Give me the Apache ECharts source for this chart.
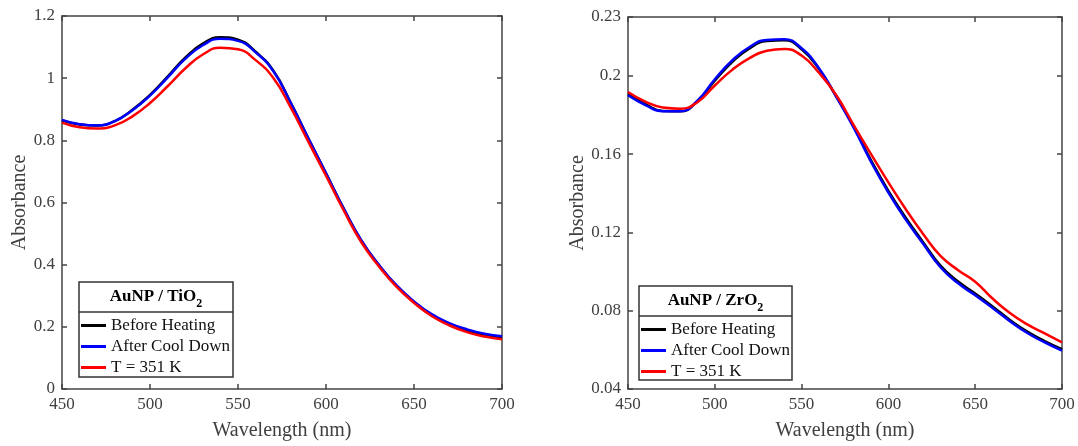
<!DOCTYPE html>
<html>
<head>
<meta charset="utf-8">
<script src="https://cdn.jsdelivr.net/npm/echarts@6/dist/echarts.min.js"></script>
<style>
html,body{margin:0;padding:0;background:#fff;}
#chart{width:1078px;height:446px;}
</style>
</head>
<body>
<div id="chart"></div>
<script>
// ---------- data ----------
const wavelength = [450,460,470,480,490,500,510,520,530,540,550,560,570,580,590,600,610,620,630,640,650,660,670,680,690,700];
const seriesNames = ['Before Heating','After Cool Down','T = 351 K'];
const seriesColors = ['#000000','#0000ff','#ff0000'];

// AuNP / TiO2
const tiBefore = [0.864,0.851,0.848,0.862,0.898,0.946,1.005,1.066,1.111,1.132,1.124,1.085,1.025,0.921,0.806,0.694,0.581,0.478,0.399,0.332,0.280,0.238,0.209,0.188,0.174,0.166];
const tiAfter  = [0.866,0.852,0.848,0.862,0.897,0.944,1.002,1.062,1.106,1.127,1.120,1.083,1.023,0.920,0.806,0.694,0.581,0.479,0.400,0.334,0.282,0.241,0.212,0.192,0.178,0.170];
const tiHot    = [0.857,0.842,0.838,0.848,0.877,0.920,0.974,1.031,1.076,1.098,1.093,1.058,1.001,0.905,0.795,0.686,0.575,0.473,0.395,0.329,0.277,0.235,0.205,0.183,0.169,0.160];

// AuNP / ZrO2
const zrBefore = [0.1905,0.1855,0.1820,0.1818,0.1870,0.1975,0.2070,0.2140,0.2177,0.2181,0.2135,0.2035,0.1893,0.1740,0.1568,0.1412,0.1275,0.1150,0.1030,0.0950,0.0888,0.0822,0.0753,0.0693,0.0645,0.0603];
const zrAfter  = [0.1900,0.1850,0.1818,0.1818,0.1873,0.1982,0.2078,0.2147,0.2183,0.2186,0.2140,0.2038,0.1892,0.1735,0.1560,0.1403,0.1265,0.1142,0.1022,0.0941,0.0879,0.0814,0.0746,0.0686,0.0638,0.0596];
const zrHot    = [0.1917,0.1868,0.1838,0.1832,0.1865,0.1950,0.2030,0.2090,0.2128,0.2137,0.2103,0.2015,0.1900,0.1748,0.1600,0.1455,0.1318,0.1192,0.1080,0.1008,0.0948,0.0862,0.0788,0.0730,0.0684,0.0638];

const xTicks = {min:450, max:700, interval:50};
const yTicksTi = {min:0, max:1.2, interval:0.2};
const yTicksZr = {min:0.04, max:0.23, interval:0.04};
const xTitle = 'Wavelength (nm)';
const yTitle = 'Absorbance';
const panelTitles = [['AuNP / TiO','2'],['AuNP / ZrO','2']];

// ---------- chart ----------
const FONT = '"Liberation Serif", "DejaVu Serif", serif';
const AX = '#444';
const TXT = '#404040';

function xAx(grid, pos, show) {
  return {
    type:'value', gridIndex:grid, position:pos, min:xTicks.min, max:xTicks.max, interval:xTicks.interval,
    axisLine:{show:true, onZero:false, lineStyle:{color:AX, width:1.5}},
    axisTick:{show:true, inside:true, length:5, lineStyle:{color:AX, width:1.5}},
    axisLabel:{show:show, color:TXT, fontFamily:FONT, fontSize:17, margin:7},
    splitLine:{show:false},
    name: show ? xTitle : '', nameLocation:'middle', nameGap:32,
    nameTextStyle:{color:TXT, fontFamily:FONT, fontSize:20}
  };
}
function yAx(grid, pos, show, t, gap) {
  return {
    type:'value', gridIndex:grid, position:pos, min:t.min, max:t.max, interval:t.interval,
    axisLine:{show:true, onZero:false, lineStyle:{color:AX, width:1.5}},
    axisTick:{show:true, inside:true, length:5, lineStyle:{color:AX, width:1.5}},
    axisLabel:{show:show, color:TXT, fontFamily:FONT, fontSize:17, margin:7},
    splitLine:{show:false},
    name: show ? yTitle : '', nameLocation:'middle', nameGap:gap, nameRotate:90,
    nameTextStyle:{color:TXT, fontFamily:FONT, fontSize:20}
  };
}

function mkSeries(data, idx, xi, yi) {
  return {
    type:'line', name:seriesNames[idx], xAxisIndex:xi, yAxisIndex:yi,
    data: wavelength.map((w,i)=>[w, data[i]]),
    smooth:0.5, showSymbol:false, symbol:'none',
    lineStyle:{color:seriesColors[idx], width:2.5},
    itemStyle:{color:seriesColors[idx]},
    z: 2+idx
  };
}

function legendBox(x, y, w, h, divY, title) {
  return {
    type:'group',
    children:[
      {type:'rect', shape:{x:x, y:y, width:w, height:h}, style:{fill:'#fff', stroke:'#333', lineWidth:1.5}, z:10},
      {type:'line', shape:{x1:x, y1:divY, x2:x+w, y2:divY}, style:{stroke:'#333', lineWidth:1.5}, z:11},
      {type:'text', x:x+w/2, y:(y+divY)/2, z:11,
        style:{
          text:'{b|'+title[0]+'}{s|'+title[1]+'}',
          align:'center', verticalAlign:'middle',
          rich:{
            b:{fontFamily:FONT, fontSize:17, fontWeight:'bold', color:'#111', lineHeight:26},
            s:{fontFamily:FONT, fontSize:12, fontWeight:'bold', color:'#111', verticalAlign:'bottom', lineHeight:14}
          }
        }}
    ]
  };
}

function legendCfg(left, top) {
  return {
    data:seriesNames, orient:'vertical', left:left, top:top,
    icon:'rect', itemWidth:25, itemHeight:3, itemGap:4, padding:0,
    selectedMode:false, z:20,
    textStyle:{fontFamily:FONT, fontSize:17, color:'#111', lineHeight:17}
  };
}

const chart = echarts.init(document.getElementById('chart'), null, {renderer:'canvas'});
chart.setOption({
  backgroundColor:'#fff',
  animation:false,
  grid:[
    {left:62, top:16, width:440, height:375},
    {left:628, top:17, width:434, height:375}
  ],
  xAxis:[xAx(0,'bottom',true), xAx(0,'top',false), xAx(1,'bottom',true), xAx(1,'top',false)],
  yAxis:[yAx(0,'left',true,yTicksTi,31), yAx(0,'right',false,yTicksTi,0), yAx(1,'left',true,yTicksZr,32), yAx(1,'right',false,yTicksZr,0)],
  legend:[legendCfg(81,317), legendCfg(641,321)],
  graphic:[
    legendBox(79,282,154,95,312,panelTitles[0]),
    legendBox(639,286,153,94,316,panelTitles[1])
  ],
  series:[
    mkSeries(tiBefore,0,0,0), mkSeries(tiAfter,1,0,0), mkSeries(tiHot,2,0,0),
    mkSeries(zrBefore,0,2,2), mkSeries(zrAfter,1,2,2), mkSeries(zrHot,2,2,2)
  ]
});
</script>
</body>
</html>
